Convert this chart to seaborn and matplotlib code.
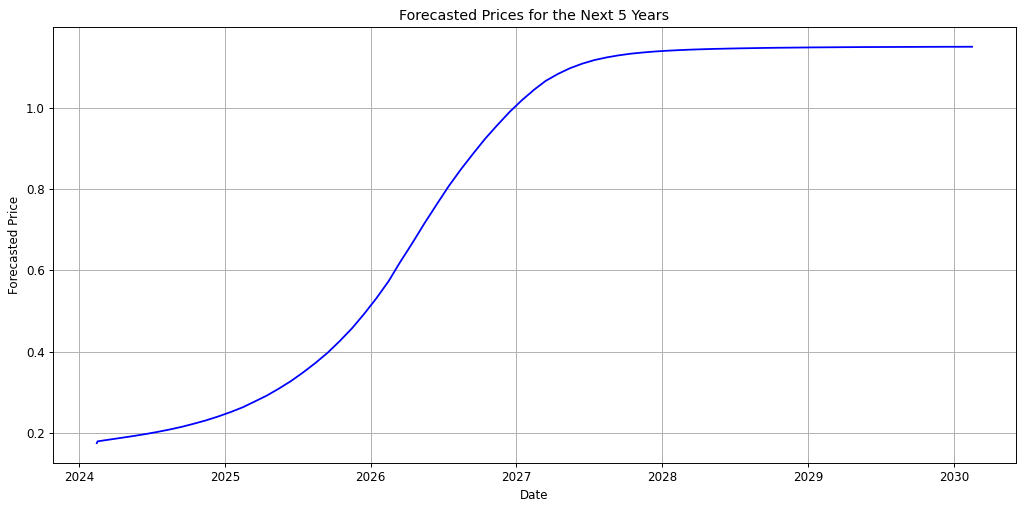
import matplotlib
matplotlib.use("Agg")
import matplotlib.pyplot as plt
import matplotlib.dates as mdates
import pandas as pd
import seaborn as sns

# Dates: two starting daily points, then monthly (15th) Mar 2024 .. Feb 2030
start_dates = ["2024-02-15", "2024-02-17"]
monthly_start = "2024-03-01"
n_monthly = 72

start_values = [0.1755, 0.1800]
monthly_values = [
    0.1839, 0.1884, 0.1928, 0.1977, 0.2030, 0.2090, 0.2157, 0.2233, 0.2317, 0.2411,
    0.2519, 0.2639, 0.2772, 0.2921, 0.3090, 0.3280, 0.3489, 0.3722, 0.3977, 0.4261,
    0.4577, 0.4926, 0.5314, 0.5740, 0.6195, 0.6670, 0.7150, 0.7620, 0.8068, 0.8488,
    0.8878, 0.9243, 0.9583, 0.9899, 1.0189, 1.0450, 1.0660, 1.0832, 1.0972, 1.1085,
    1.1172, 1.1238, 1.1290, 1.1330, 1.1360, 1.1384, 1.1403, 1.1418, 1.1430, 1.1440,
    1.1448, 1.1455, 1.1461, 1.1466, 1.1471, 1.1475, 1.1478, 1.1481, 1.1484, 1.1486,
    1.1488, 1.1490, 1.1492, 1.1493, 1.1494, 1.1495, 1.1496, 1.1497, 1.1498, 1.1499,
    1.1499, 1.1500,
]

dates = list(pd.to_datetime(start_dates)) + list(
    pd.date_range(monthly_start, periods=n_monthly, freq="MS") + pd.Timedelta(days=14)
)
values = start_values + monthly_values
df = pd.DataFrame({"Date": dates, "Forecasted Price": values})

s = 0.855
plt.rcParams.update({
    "font.size": 10 * s,
    "axes.titlesize": 12 * s,
    "axes.labelsize": 10 * s,
    "xtick.labelsize": 10 * s,
    "ytick.labelsize": 10 * s,
    "axes.titlepad": 6 * s,
    "axes.labelpad": 4 * s,
    "xtick.major.size": 3.5 * s,
    "ytick.major.size": 3.5 * s,
    "xtick.major.pad": 3.5 * s,
    "ytick.major.pad": 3.5 * s,
    "xtick.major.width": 0.8 * s,
    "ytick.major.width": 0.8 * s,
    "axes.linewidth": 0.8 * s,
    "grid.linewidth": 0.8 * s,
})

fig, ax = plt.subplots(figsize=(10.24, 5.08), dpi=100)
fig.subplots_adjust(left=0.0518, right=0.992, top=0.947, bottom=0.0886)

sns.lineplot(data=df, x="Date", y="Forecasted Price", color="blue", linewidth=1.5 * s, ax=ax)

ax.xaxis.set_major_locator(mdates.YearLocator())
ax.xaxis.set_major_formatter(mdates.DateFormatter("%Y"))
ax.grid(True)
ax.set_title("Forecasted Prices for the Next 5 Years")
ax.set_xlabel("Date")
ax.set_ylabel("Forecasted Price")

fig.savefig("out.png", dpi=100)
